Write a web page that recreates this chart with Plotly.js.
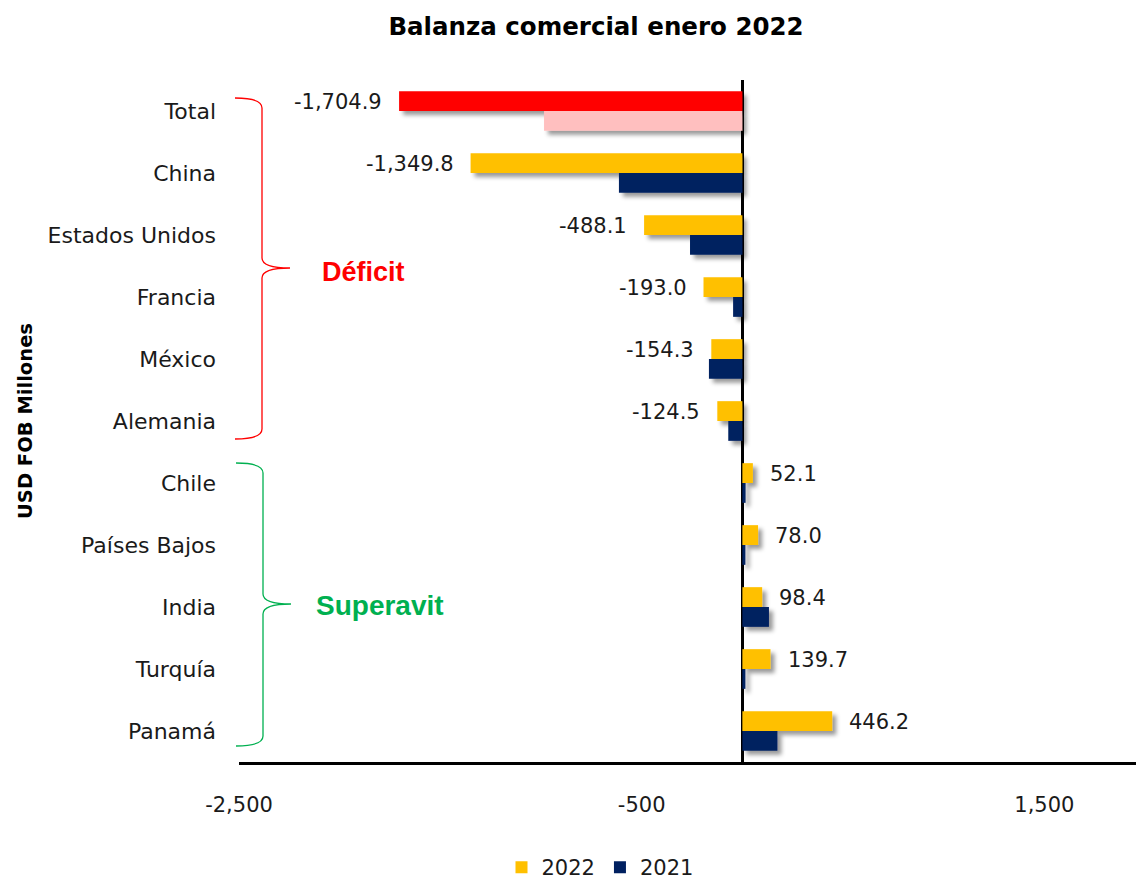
<!DOCTYPE html>
<html>
<head>
<meta charset="utf-8">
<script src="https://cdn.plot.ly/plotly-3.0.1.min.js"></script>
<style>
html,body{margin:0;padding:0;background:#fff;}
#chart{width:1136px;height:888px;}
</style>
</head>
<body>
<div id="chart"></div>
<script>
const categories = ['Total','China','Estados Unidos','Francia','México','Alemania','Chile','Países Bajos','India','Turquía','Panamá'];
const values2022 = [-1704.9,-1349.8,-488.1,-193.0,-154.3,-124.5,52.1,78.0,98.4,139.7,446.2];
const values2021 = [-985,-613,-260,-46,-166,-70,16,15,132,15,174];
const tickValues = [-2500,-500,1500];
const tickLabels = ['-2,500','-500','1,500'];
const seriesNames = ['2022','2021'];

const FONT = 'DejaVu Sans, sans-serif';
const W = 0.32;

// pixel -> paper helpers for decorations (plot area: x 239..1136, y 80..762)
const PL = 239, PR = 1136, PT = 80, PB = 762;
function px(X){ return (X-PL)/(PR-PL); }
function py(Y){ return (PB-Y)/(PB-PT); }
function bracePath(xTip, xSpine, xPoint, yTop, yMid, yBot){
  const c = 10;
  const p = (X,Y)=> px(X).toFixed(5)+','+py(Y).toFixed(5);
  return 'M'+p(xTip,yTop)+' Q'+p(xSpine,yTop)+' '+p(xSpine,yTop+c)+
         ' L'+p(xSpine,yMid-c)+' Q'+p(xSpine,yMid)+' '+p(xPoint,yMid)+
         ' Q'+p(xSpine,yMid)+' '+p(xSpine,yMid+c)+
         ' L'+p(xSpine,yBot-c)+' Q'+p(xSpine,yBot)+' '+p(xTip,yBot);
}

const traces = [
  {type:'bar', orientation:'h', name:seriesNames[0], y:categories.slice(1), x:values2022.slice(1),
   marker:{color:'#FFC000'}, offset:-W, width:W, hoverinfo:'x+y'},
  {type:'bar', orientation:'h', name:seriesNames[1], y:categories.slice(1), x:values2021.slice(1),
   marker:{color:'#002060'}, offset:0, width:W, hoverinfo:'x+y'},
  {type:'bar', orientation:'h', name:seriesNames[0]+' Total', y:categories.slice(0,1), x:values2022.slice(0,1),
   marker:{color:'#FF0000'}, offset:-W, width:W, showlegend:false},
  {type:'bar', orientation:'h', name:seriesNames[1]+' Total', y:categories.slice(0,1), x:values2021.slice(0,1),
   marker:{color:'#FFBFBF'}, offset:0, width:W, showlegend:false}
];

const fmt = v => v.toLocaleString('en-US',{minimumFractionDigits:1, maximumFractionDigits:1});
const annotations = categories.map((c,i)=>({
  x: values2022[i], y: c, xref:'x', yref:'y', text: fmt(values2022[i]), showarrow:false,
  xanchor: values2022[i] < 0 ? 'right' : 'left', xshift: values2022[i] < 0 ? -15 : 15, yshift: 9,
  font:{family:FONT, size:21, color:'#1a1a1a'}
}));
annotations.push({
  x: px(363), y: py(272), xref:'paper', yref:'paper', text:'<b>Déficit</b>', showarrow:false,
  xanchor:'center', yanchor:'middle', font:{family:'Liberation Sans, Arial, sans-serif', size:27, color:'#FF0000'}
});
annotations.push({
  x: px(380), y: py(605), xref:'paper', yref:'paper', text:'<b>Superavit</b>', showarrow:false,
  xanchor:'center', yanchor:'middle', font:{family:'Liberation Sans, Arial, sans-serif', size:28, color:'#00B050'}
});
annotations.push({
  x: px(25), y: py(421), xref:'paper', yref:'paper', text:'<b>USD FOB Millones</b>', showarrow:false,
  textangle:-90, xanchor:'center', yanchor:'middle', font:{family:FONT, size:19.5, color:'#000'}
});

const shapes = [
  {type:'path', xref:'paper', yref:'paper', path:bracePath(235,262,290,98,268,439), line:{color:'#FF0000', width:1.3}},
  {type:'path', xref:'paper', yref:'paper', path:bracePath(236,263,291,463,604,746), line:{color:'#00B050', width:1.3}}
];

const layout = {
  width:1136, height:888,
  margin:{l:PL, r:0, t:PT, b:888-PB, pad:0},
  paper_bgcolor:'#fff', plot_bgcolor:'#fff',
  barmode:'overlay',
  title:{text:'<b>Balanza comercial enero 2022</b>', x:596/1136, xanchor:'center', xref:'container',
         y:1-26/888, yanchor:'middle', yref:'container', font:{family:FONT, size:24.5, color:'#000'}},
  xaxis:{range:[-2500,1955], tickvals:tickValues, ticktext:tickLabels, ticks:'', showgrid:false,
         zeroline:true, zerolinecolor:'#000', zerolinewidth:2.5,
         showline:true, linecolor:'#000', linewidth:2.5, ticklabelstandoff:22,
         tickfont:{family:FONT, size:21, color:'#1a1a1a'}},
  yaxis:{type:'category', categoryorder:'array', categoryarray:categories, range:[10.5,-0.5],
         ticks:'', showgrid:false, zeroline:false, showline:false, ticklabelstandoff:22,
         tickfont:{family:FONT, size:22, color:'#1a1a1a'}},
  showlegend:true,
  legend:{orientation:'h', x:600/1136, xanchor:'center', xref:'container', y:-4/888, yanchor:'bottom', yref:'container',
          font:{family:FONT, size:21, color:'#1a1a1a'}, traceorder:'normal', itemwidth:30},
  annotations:annotations,
  shapes:shapes
};

Plotly.newPlot('chart', traces, layout, {displayModeBar:false, staticPlot:true}).then(gd=>{
  const svgNS = 'http://www.w3.org/2000/svg';
  const svg = gd.querySelector('svg.main-svg');
  let defs = svg.querySelector('defs');
  if(!defs){ defs = document.createElementNS(svgNS,'defs'); svg.insertBefore(defs, svg.firstChild); }
  const f = document.createElementNS(svgNS,'filter');
  f.setAttribute('id','barshadow');
  f.setAttribute('filterUnits','userSpaceOnUse');
  f.setAttribute('x','-500'); f.setAttribute('y','-500');
  f.setAttribute('width','3000'); f.setAttribute('height','3000');
  const ds = document.createElementNS(svgNS,'feDropShadow');
  ds.setAttribute('dx','4'); ds.setAttribute('dy','4'); ds.setAttribute('stdDeviation','2');
  ds.setAttribute('flood-color','#000'); ds.setAttribute('flood-opacity','0.4');
  f.appendChild(ds); defs.appendChild(f);
  gd.querySelectorAll('.barlayer .point path').forEach(p=>p.setAttribute('filter','url(#barshadow)'));
});
</script>
</body>
</html>
